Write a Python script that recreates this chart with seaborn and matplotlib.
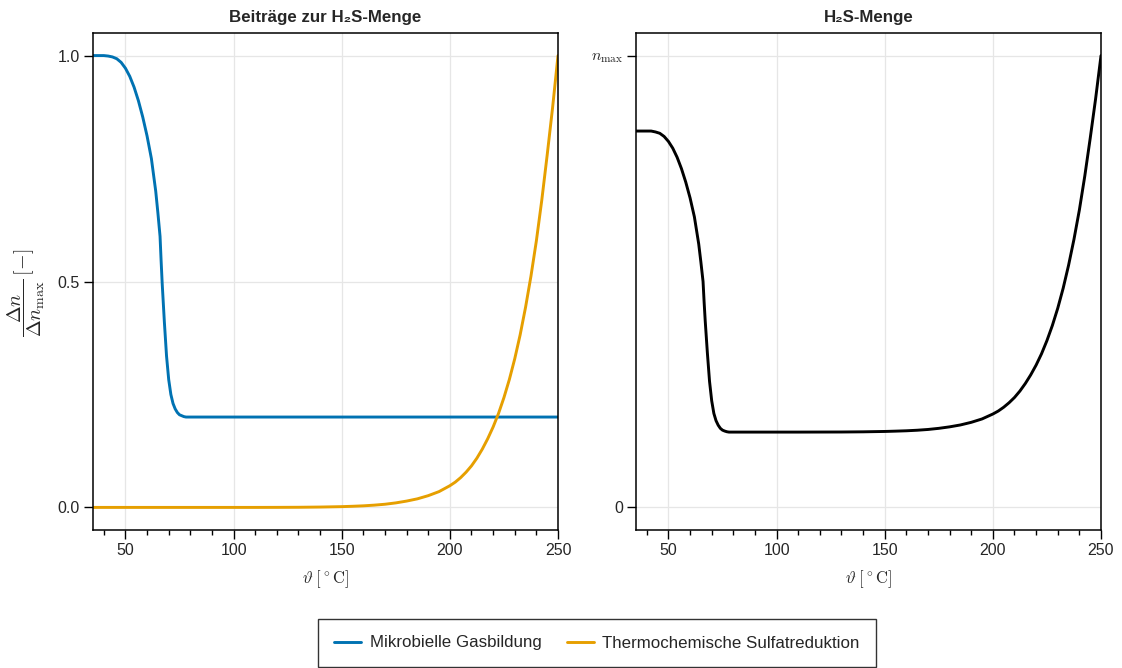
import numpy as np
import pandas as pd
import matplotlib
matplotlib.use("Agg")
import matplotlib.pyplot as plt
import seaborn as sns
from matplotlib.ticker import MultipleLocator, FixedLocator

# ---- data ----
temperature = [35, 38, 40, 42, 44, 46, 48, 50, 52, 54, 56, 58, 60, 62, 64, 65, 66,
               66.5, 67, 68, 69, 70, 71, 72, 73, 74, 75, 76, 77, 78, 80, 90, 100,
               110, 120, 130, 140, 150, 155, 160, 165, 170, 175, 180, 185, 190,
               195, 200, 202.5, 205, 207.5, 210, 212.5, 215, 217.5, 220, 222.5,
               225, 227.5, 230, 232.5, 235, 237.5, 240, 242.5, 245, 247.5, 250]
microbial = [1.0, 1.0, 1.0, 0.999, 0.997, 0.993, 0.985, 0.972, 0.954, 0.930, 0.900,
             0.864, 0.822, 0.772, 0.700, 0.652, 0.600, 0.545, 0.495, 0.410, 0.335,
             0.283, 0.250, 0.230, 0.218, 0.210, 0.205, 0.203, 0.201, 0.200, 0.200,
             0.200, 0.200, 0.200, 0.200, 0.200, 0.200, 0.200, 0.200, 0.200, 0.200,
             0.200, 0.200, 0.200, 0.200, 0.200, 0.200, 0.200, 0.200, 0.200, 0.200,
             0.200, 0.200, 0.200, 0.200, 0.200, 0.200, 0.200, 0.200, 0.200, 0.200,
             0.200, 0.200, 0.200, 0.200, 0.200, 0.200, 0.200]
thermochemical = [0.0, 0.0, 0.0, 0.0, 0.0, 0.0, 0.0, 0.0, 0.0, 0.0, 0.0, 0.0, 0.0,
                  0.0, 0.0, 0.0, 0.0, 0.0, 0.0, 0.0, 0.0, 0.0, 0.0, 0.0, 0.0, 0.0,
                  0.0, 0.0, 0.0, 0.0, 0.0, 0.0, 0.0, 0.0, 0.0001, 0.0003, 0.0008,
                  0.0017, 0.0025, 0.0035, 0.005, 0.007, 0.010, 0.014, 0.019, 0.026,
                  0.035, 0.048, 0.056, 0.066, 0.078, 0.092, 0.109, 0.129, 0.152,
                  0.178, 0.208, 0.243, 0.283, 0.329, 0.382, 0.443, 0.512, 0.590,
                  0.680, 0.780, 0.885, 1.0]
h2s_total = [0.833, 0.833, 0.833, 0.833, 0.831, 0.828, 0.821, 0.810, 0.795, 0.775,
             0.750, 0.720, 0.685, 0.643, 0.583, 0.543, 0.500, 0.454, 0.413, 0.342,
             0.279, 0.236, 0.208, 0.192, 0.182, 0.175, 0.171, 0.169, 0.1675, 0.1667,
             0.1667, 0.1667, 0.1667, 0.1667, 0.1668, 0.1669, 0.1673, 0.1681,
             0.1688, 0.1696, 0.1708, 0.1725, 0.1750, 0.1783, 0.1825, 0.1883,
             0.1958, 0.2067, 0.2133, 0.2217, 0.2317, 0.2433, 0.2575, 0.2742,
             0.2933, 0.3150, 0.3400, 0.3692, 0.4025, 0.4408, 0.4850, 0.5358,
             0.5933, 0.6583, 0.7333, 0.8167, 0.9042, 1.0]

series_names = ["Mikrobielle Gasbildung", "Thermochemische Sulfatreduktion"]
titles = ["Beiträge zur H₂S-Menge", "H₂S-Menge"]
left_yticks = [0.0, 0.5, 1.0]
left_yticklabels = ["0.0", "0.5", "1.0"]
right_yticks = [0.0, 1.0]
right_yticklabels = ["0", r"$n_\mathrm{max}$"]
xticks = [50, 100, 150, 200, 250]

# ---- styling ----
sns.set_theme(style="white")
plt.rcParams["font.family"] = ["Liberation Sans", "DejaVu Sans"]
plt.rcParams["mathtext.fontset"] = "cm"
plt.rcParams["axes.edgecolor"] = "black"
plt.rcParams["axes.linewidth"] = 1.1

blue = "#0072B2"
orange = "#E69F00"
fs = 11.5
fs_big = 12.2

fig = plt.figure(figsize=(11.22, 6.68), dpi=100)
W, H = 1122, 668
ax1 = fig.add_axes([93 / W, 1 - 530 / H, 465 / W, 497 / H])
ax2 = fig.add_axes([636 / W, 1 - 530 / H, 465 / W, 497 / H])

df = pd.DataFrame({"T": temperature, "micro": microbial,
                   "thermo": thermochemical, "total": h2s_total})

sns.lineplot(data=df, x="T", y="micro", ax=ax1, color=blue, lw=2.1,
             label=series_names[0])
sns.lineplot(data=df, x="T", y="thermo", ax=ax1, color=orange, lw=2.1,
             label=series_names[1])
sns.lineplot(data=df, x="T", y="total", ax=ax2, color="black", lw=2.1)

handles, labels = ax1.get_legend_handles_labels()
ax1.get_legend().remove()

for ax in (ax1, ax2):
    ax.set_xlim(35, 250)
    ax.set_ylim(-0.05, 1.05)
    ax.xaxis.set_major_locator(FixedLocator(xticks))
    ax.xaxis.set_minor_locator(MultipleLocator(10))
    ax.tick_params(axis="x", which="major", direction="out", length=6.5,
                   width=1.0, color="black", labelsize=fs, pad=3, bottom=True)
    ax.tick_params(axis="x", which="minor", direction="out", length=3.6,
                   width=1.0, color="black", bottom=True)
    ax.tick_params(axis="y", which="major", direction="out", length=6.5,
                   width=1.0, color="black", labelsize=fs, pad=3, left=True)
    ax.grid(True, which="major", color="#e6e6e6", lw=0.9)
    ax.set_axisbelow(True)
    for sp in ax.spines.values():
        sp.set_visible(True)
        sp.set_color("black")
        sp.set_linewidth(1.1)
    ax.set_xlabel(r"$\vartheta\;[^\circ\mathrm{C}]$", fontsize=12, labelpad=7)

ax1.set_yticks(left_yticks)
ax1.set_yticklabels(left_yticklabels)
ax2.set_yticks(right_yticks)
ax2.set_yticklabels(right_yticklabels)

ax1.set_ylabel(r"$\dfrac{\Delta n}{\Delta n_\mathrm{max}}\,[-]$", fontsize=14.5)
ax1.yaxis.set_label_coords(-0.098, 0.478)
ax2.set_ylabel("")

ax1.set_title(titles[0], fontsize=fs_big, fontweight="bold", pad=8)
ax2.set_title(titles[1], fontsize=fs_big, fontweight="bold", pad=8)

leg = fig.legend(handles, labels, loc="center",
                 bbox_to_anchor=(597 / W, 1 - 643 / H), ncol=2,
                 fontsize=fs_big, frameon=True, fancybox=False, edgecolor="black",
                 handlelength=1.6, handletextpad=0.5, columnspacing=1.5,
                 borderpad=0.95)
leg.get_frame().set_linewidth(1.0)
for lh in leg.get_lines():
    lh.set_linewidth(2.1)

fig.savefig("out.png", dpi=100)
